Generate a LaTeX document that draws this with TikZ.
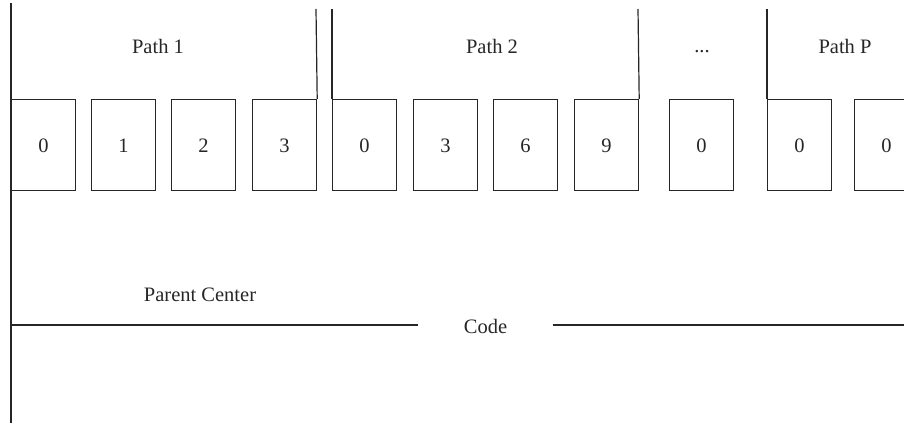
\documentclass[tikz,border=0pt]{standalone}
\usepackage{fontspec}
\setmainfont{Liberation Serif}
\newcommand{\lblfont}{\fontsize{20.5}{24}\selectfont}
\begin{document}
\begin{tikzpicture}[x=1pt,y=-1pt,line width=1.2pt,
  ink/.style={draw=black!85},
  cell/.style={ink,rectangle,minimum width=64pt,minimum height=91pt,
    inner sep=0pt,anchor=north west,font=\lblfont,text=black!85,
    text height=14pt,text depth=0pt},
  caption/.style={font=\lblfont,text=black!85,anchor=base,inner sep=0pt}]
\useasboundingbox (0,0) rectangle (904,423);
\clip (0,0) rectangle (904,423);

% cells of path 1
\node[cell] (p1a) at (11,99) {0};
\node[cell] (p1b) at (91,99) {1};
\node[cell] (p1c) at (171,99) {2};
\node[cell] (p1d) at (252,99) {3};
% cells of path 2
\node[cell] (p2a) at (332,99) {0};
\node[cell] (p2b) at (413,99) {3};
\node[cell] (p2c) at (493,99) {6};
\node[cell] (p2d) at (574,99) {9};
% intermediate path
\node[cell] (pm) at (669,99) {0};
% cells of path P
\node[cell] (pPa) at (767,99) {0};
\node[cell] (pPb) at (854,99) {0};

% path captions
\node[caption] (l1) at (158,53) {Path 1};
\node[caption] (l2) at (492,53) {Path 2};
\node[caption] (lm) at (702,52) {...};
\node[caption] (lP) at (845,53) {Path P};

% group delimiters
\coordinate (top0) at (11,3);
\coordinate (bot0) at (11,423);
\coordinate (t1r) at (316,9);
\coordinate (t2l) at (332,9);
\coordinate (t2r) at (638,9);
\coordinate (tPl) at (767,9);
\draw[ink] (top0) -- (bot0);
\draw[ink] (p1d.north east) -- (t1r);
\draw[ink] (p2a.north west) -- (t2l);
\draw[ink] (p2d.north east) -- (t2r);
\draw[ink] (pPa.north west) -- (tPl);

% parent center code line
\node[caption] (parent) at (200,301) {Parent Center};
\node[font=\lblfont,text=black!85,inner sep=0pt,minimum width=133pt,
  text height=14pt,text depth=0pt] (code) at (485.5,326) {Code};
\coordinate (hl) at (11,325);
\coordinate (hr) at (904,325);
\draw[ink] (hl) -- (hl -| code.west);
\draw[ink] (hr -| code.east) -- (hr);
\end{tikzpicture}
\end{document}
